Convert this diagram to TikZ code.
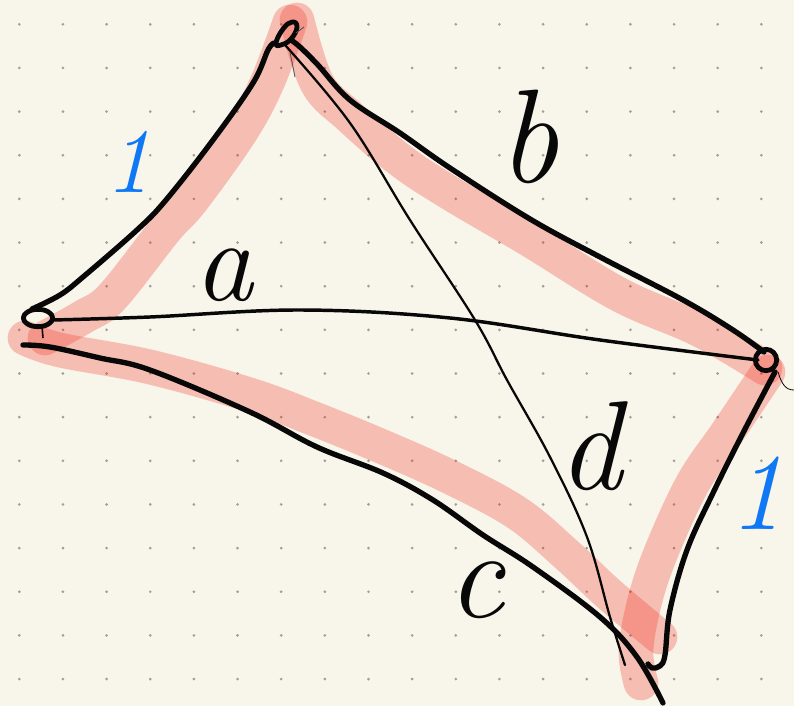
\documentclass[tikz,border=0pt]{standalone}
\usepackage{fontspec}
\definecolor{paper}{RGB}{248,246,234}
\definecolor{griddot}{RGB}{160,158,150}
\definecolor{hilite}{RGB}{244,30,20}
\definecolor{ink}{RGB}{8,8,8}
\definecolor{blueink}{RGB}{15,120,245}
\tikzset{
  hl/.style={draw=hilite, draw opacity=0.26, line width=26pt, line cap=round, line join=round},
  edgeline/.style={draw=ink, line width=4pt, line cap=round, line join=round},
  diagA/.style={draw=ink, line width=2.6pt, line cap=round},
  diagD/.style={draw=ink, line width=1.7pt, line cap=round},
  loopline/.style={draw=ink, line width=3.6pt, line join=round},
  lbl/.style={inner sep=0pt, text=ink},
  bluelbl/.style={inner sep=0pt, text=blueink},
}
\begin{document}
\begin{tikzpicture}[x=0.75pt,y=-0.75pt]
\fill[paper] (0,0) rectangle (794,706);
\useasboundingbox (0,0) rectangle (794,706);
\foreach \i in {0,...,17}{\foreach \j in {0,...,15}{
  \fill[griddot] ({19.3+43.65*\i},{24.3+43.65*\j}) circle[radius=1.1pt];}}

% vertices
\coordinate (T) at (287,34);
\coordinate (L) at (38,318);
\coordinate (R) at (766,360);
\coordinate (B) at (650,665);

% pink highlights
\draw[hl] plot[smooth,tension=0.6] coordinates {(45,338) (83,317) (112,297) (165,230) (192,200) (240,133) (267,83) (290,22)};
\draw[hl] plot[smooth,tension=0.6] coordinates {(297,20) (317,83) (350,117) (400,160) (450,193) (530,240) (620,295) (700,330) (765,368)};
\draw[hl] plot[smooth,tension=0.6] coordinates {(768,372) (727,433) (693,483) (662,550) (645,600) (636,650) (641,683)};
\draw[hl] plot[smooth,tension=0.6] coordinates {(25,338) (60,350) (150,367) (250,395) (317,420) (383,447) (450,477) (517,513) (567,555) (610,595) (660,637)};

% black edges
\draw[edgeline] plot[smooth,tension=0.6] coordinates {(32,309) (60,295) (83,277) (137,230) (166,200) (213,140) (253,83) (268,50) (274,43)};
\draw[edgeline] plot[smooth,tension=0.6] coordinates {(291,40) (300,47) (318,65) (350,100) (400,133) (450,168) (530,219) (600,257) (683,300) (733,330) (764,352)};
\draw[edgeline] plot[smooth,tension=0.6] coordinates {(775,372) (743,433) (713,493) (687,550) (670,610) (665,655) (660,666) (652,668) (648,664)};
\draw[edgeline] plot[smooth,tension=0.6] coordinates {(23,345) (50,347) (100,358) (150,370) (250,412) (317,447) (383,473) (433,500) (483,535) (533,567) (600,617) (637,657) (663,703)};

% diagonals
\draw[diagA] plot[smooth,tension=0.6] coordinates {(53,320) (150,317) (300,310) (450,318) (600,340) (758,360)};
\draw[diagD] plot[smooth,tension=0.6] coordinates {(285,45) (350,123) (410,220) (475,320) (507,380) (550,457) (587,537) (610,617) (625,665)};

% vertex loops
\draw[loopline] plot[smooth cycle, tension=0.8] coordinates {(276,43) (283,29) (292,22) (297,27) (291,39) (281,45)};
\draw[loopline] (L) ellipse [x radius=11pt, y radius=6.5pt];
\draw[loopline] (R) circle[radius=8pt];
\draw[ink, line width=1.2pt] (42,326) -- (43,338);
\draw[ink, line width=0.6pt] (778,372) .. controls (782,385) and (786,390) .. (794,390);
\draw[ink!70, line width=0.6pt] (290,52) -- (295,77);
\draw[ink!70, line width=0.7pt] (296,33) -- (304,27);

% labels
\node[bluelbl, font={\fontsize{69}{69}\selectfont\itshape}] (oneL) at (128,162) {1};
\node[bluelbl, font={\fontsize{82}{82}\selectfont\itshape}] (oneR) at (757,493) {1};
\node[lbl, font={\fontsize{88}{88}\selectfont\itshape}] (la) at (224,275) {a};
\node[lbl, font={\fontsize{100}{100}\selectfont\itshape}] (lb) at (528,137) {b};
\node[lbl, font={\fontsize{95}{95}\selectfont\itshape}] (lc) at (476,590) {c};
\node[lbl, font={\fontsize{95}{95}\selectfont\itshape}] (ld) at (590,446) {d};
\end{tikzpicture}
\end{document}
